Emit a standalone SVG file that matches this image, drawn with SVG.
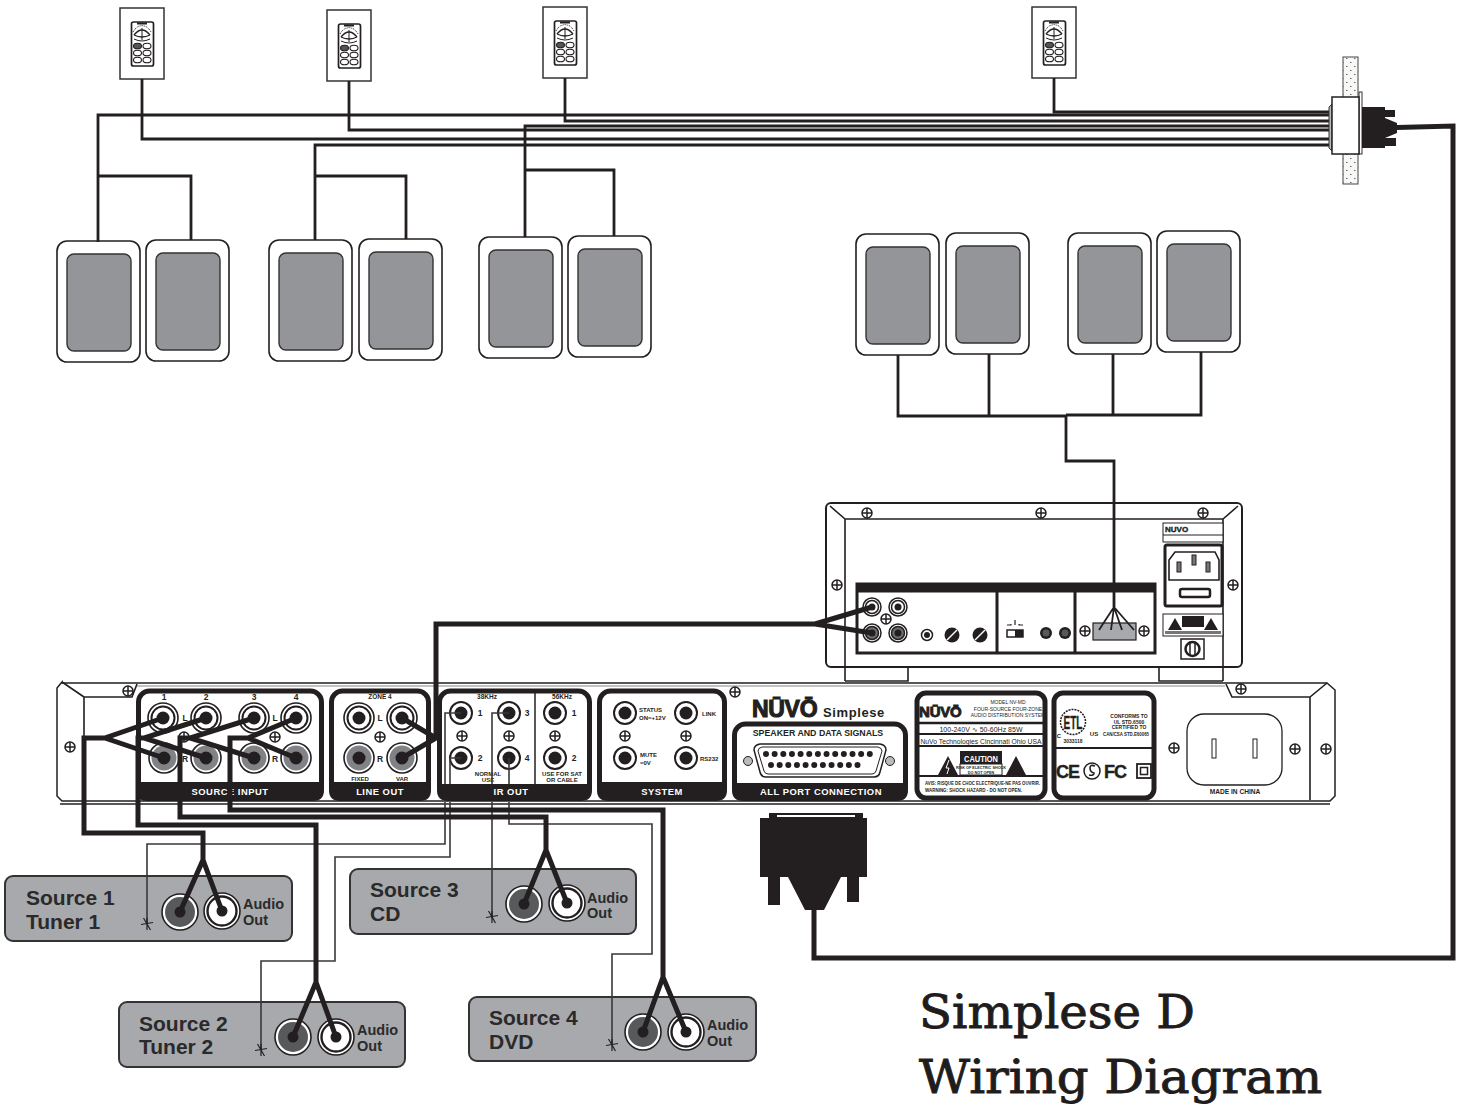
<svg xmlns="http://www.w3.org/2000/svg" xmlns:xlink="http://www.w3.org/1999/xlink" width="1463" height="1105" viewBox="0 0 1463 1105">
<style>
text{font-family:"Liberation Sans",Arial,sans-serif;font-weight:bold;fill:#231f20}
.m{text-anchor:middle}
.w{fill:#fff}
.lab{font-size:9.400px;letter-spacing:.5px;text-anchor:middle;fill:#fff}
.n{font-size:8.500px;text-anchor:middle}
.s{font-size:6px;text-anchor:middle}
.r{font-weight:normal;font-size:5px;text-anchor:middle}
.src{font-size:21px;fill:#2b2a2b}
.aud{font-size:14.500px;fill:#2b2a2b}
.title{font-family:"DejaVu Serif",serif;font-weight:normal;fill:#1f1c1d;stroke:#1f1c1d;stroke-width:.9px}
.panel{fill:#fff;stroke:#231f20;stroke-width:5}
.band{fill:#231f20}
.thin{fill:none;stroke:#231f20;stroke-width:1.200}
.ln{fill:none;stroke:#231f20;stroke-width:1.600}
.spk{fill:none;stroke:#231f20;stroke-width:2.800}
.ir{fill:none;stroke:#3a3839;stroke-width:1.600}
.aw{fill:none;stroke:#231f20;stroke-width:5;stroke-linejoin:miter}
.bk{fill:#231f20}
</style>
<defs>
<g id="screw"><circle r="5" fill="#fff" stroke="#231f20" stroke-width="1.500"/><path d="M-5 0H5M0-5V5" stroke="#231f20" stroke-width="1.500"/></g>
<g id="rw"><circle r="15" fill="#fff" stroke="#231f20" stroke-width="1.600"/><circle r="11.500" fill="#fff" stroke="#231f20" stroke-width="2"/><circle r="6.500" class="bk"/></g>
<g id="rg"><circle r="15" fill="#fff" stroke="#231f20" stroke-width="1.600"/><circle r="12.500" fill="#808285"/><circle r="6.500" class="bk"/></g>
<g id="jk"><circle r="11" fill="#fff" stroke="#231f20" stroke-width="2"/><circle r="6.500" class="bk"/></g>
<g id="arw"><circle r="9" fill="#fff" stroke="#231f20" stroke-width="1.500"/><circle r="6.500" fill="#fff" stroke="#231f20" stroke-width="1.500"/><circle r="3.500" class="bk"/></g>
<g id="arg"><circle r="9" fill="#fff" stroke="#231f20" stroke-width="1.500"/><circle r="6.500" fill="#6d6e71" stroke="#231f20" stroke-width="1.500"/><circle r="3.500" class="bk"/></g>
<g id="sd"><circle r="18" fill="#fff" stroke="#231f20" stroke-width="1.600"/><circle r="15" fill="#58595b"/><circle r="5.500" class="bk"/></g>
<g id="sw"><circle r="18" fill="#fff" stroke="#231f20" stroke-width="1.600"/><circle r="14.500" fill="#fff" stroke="#231f20" stroke-width="2.400"/><circle r="5.500" class="bk"/></g>
<g id="spkr"><rect width="83" height="121" rx="10" fill="#fff" stroke="#231f20" stroke-width="1.600"/><rect x="10" y="13" width="64" height="97" rx="7" fill="#939598" stroke="#333" stroke-width="1.400"/></g>
<g id="kp"><rect width="44" height="71" fill="#fff" stroke="#333" stroke-width="1.500"/><rect x="11.500" y="14" width="22" height="44" rx="2" fill="#fff" stroke="#231f20" stroke-width="1.700"/><path d="M17 15.500h10" stroke="#231f20" stroke-width="2"/><path d="M14 27q8-10 16 0M14 27q8 4 16 0" fill="none" stroke="#231f20" stroke-width="1.300"/><path d="M13 24l2-3 3-2.500 4-1 4 1 3 2.500 2 3" fill="none" stroke="#231f20" stroke-width="1" stroke-dasharray="1 1"/><path d="M22 20v12M14 31q8 4 16 0" fill="none" stroke="#231f20" stroke-width="1"/><g fill="#fff" stroke="#231f20" stroke-width="1.100"><ellipse cx="17.500" cy="38" rx="4" ry="2.800" fill="#555"/><ellipse cx="27" cy="38" rx="4" ry="2.800"/><ellipse cx="17.500" cy="45" rx="4" ry="2.800"/><ellipse cx="27" cy="45" rx="4" ry="2.800"/><ellipse cx="17.500" cy="52" rx="4" ry="2.800"/><ellipse cx="27" cy="52" rx="4" ry="2.800"/></g></g>
<path id="star" d="M-6 0.500L6-1.500M-3.500-6L3.500 6M0-6V6" class="thin" stroke-width="1"/>
<pattern id="dots" width="8" height="8" patternUnits="userSpaceOnUse"><rect width="8" height="8" fill="#f8f8f6"/><path d="M2 2.500h1.500M6 6.500h1.500" stroke="#666" stroke-width="1"/></pattern>
</defs>
<rect width="1463" height="1105" fill="#fff"/>

<g id="keypads">
<use id="keypad-1" href="#kp" x="120" y="8"/>
<use id="keypad-2" href="#kp" x="327" y="10"/>
<use id="keypad-3" href="#kp" x="543" y="7"/>
<use id="keypad-4" href="#kp" x="1032" y="7"/>
</g>
<g id="speakers">
<use href="#spkr" x="57" y="241"/><use href="#spkr" x="146" y="240"/>
<use href="#spkr" x="269" y="240"/><use href="#spkr" x="359" y="239"/>
<use href="#spkr" x="479" y="237"/><use href="#spkr" x="568" y="236"/>
<use href="#spkr" x="856" y="234"/><use href="#spkr" x="946" y="233"/>
<use href="#spkr" x="1068" y="233"/><use href="#spkr" x="1157" y="231"/>
</g>

<g id="wall-plate">
<rect x="1343" y="57" width="15" height="127" fill="url(#dots)" stroke="#444" stroke-width="1"/>
<rect x="1359" y="92" width="3" height="62" fill="#fff" stroke="#333" stroke-width="1"/>
<path class="bk" d="M1362 107H1385V110H1395V117H1385V118L1397 123V133L1385 138H1396V146H1385V148H1362Z"/>
</g>

<g id="amp-top">
<rect x="826" y="503" width="416" height="164" rx="5" fill="#fff" stroke="#231f20" stroke-width="2"/>
<path class="ln" d="M830 506L845 519H1223L1238 506M845 519V681M1223 519V681M845 681H908V667M1159 667V681H1223"/>
<use href="#screw" x="867" y="513"/><use href="#screw" x="1041" y="513"/><use href="#screw" x="1203" y="513"/><use href="#screw" x="837" y="585"/><use href="#screw" x="1233" y="585"/>
<rect x="857" y="584" width="298" height="69" fill="#fff" stroke="#231f20" stroke-width="3"/>
<rect x="856" y="583" width="300" height="9.500" class="bk"/>
<path d="M997 584V653M1075 584V653" stroke="#231f20" stroke-width="3"/>
<use href="#arw" x="872" y="607"/><use href="#arw" x="898" y="607"/><use href="#arg" x="872" y="633"/><use href="#arg" x="898" y="633"/>
<use href="#screw" x="886" y="619"/>
<circle cx="927" cy="635" r="5.500" fill="#fff" stroke="#231f20" stroke-width="1.500"/><circle cx="927" cy="635" r="3" class="bk"/>
<g stroke="#fff" stroke-width="1.500"><circle cx="952" cy="635" r="7.500" fill="#231f20" stroke="none"/><path d="M947 640L957 630"/><circle cx="980" cy="635" r="7.500" fill="#231f20" stroke="none"/><path d="M975 640L985 630"/></g>
<rect x="1007" y="630" width="16" height="7" fill="#fff" stroke="#231f20" stroke-width="1.500"/><rect x="1015" y="630" width="8" height="7" class="bk"/>
<path class="thin" d="M1007 625h4v-1M1015 620v5M1019 624v1h4"/>
<circle cx="1046" cy="633" r="6" class="bk"/><circle cx="1046" cy="633" r="3.500" fill="#58595b"/>
<circle cx="1065" cy="633" r="6" class="bk"/><circle cx="1065" cy="633" r="3.500" fill="#58595b"/>
<use href="#screw" x="1085" y="631"/><use href="#screw" x="1144" y="631"/>
<rect x="1093" y="623" width="43" height="17" fill="#a7a9ac" stroke="#231f20" stroke-width="1.200"/>
<rect x="1163" y="523" width="60" height="19" fill="#fff" stroke="#231f20"/>
<path d="M1163 535H1223" class="thin"/>
<text x="1165" y="532" style="font-size:8px" stroke="#231f20" stroke-width=".4">NUVO</text>
<rect x="1165" y="545" width="57" height="61" rx="2" fill="#fff" stroke="#231f20" stroke-width="3"/>
<path class="ln" d="M1175 552H1215L1219 560V580H1169V560Z"/>
<rect x="1177" y="562" width="4" height="10" fill="#777" stroke="#231f20"/><rect x="1192" y="555" width="4" height="10" fill="#777" stroke="#231f20"/><rect x="1206" y="562" width="4" height="10" fill="#777" stroke="#231f20"/>
<rect x="1180" y="589" width="30" height="8" rx="2" fill="#fff" stroke="#231f20" stroke-width="2.500"/>
<rect x="1163" y="614" width="60" height="22" fill="#fff" stroke="#231f20"/>
<path class="bk" d="M1168 630l7-12 7 12zM1204 630l7-12 7 12z"/><rect x="1182" y="616" width="22" height="11" class="bk"/><rect x="1165" y="631" width="56" height="3" fill="#777"/>
<rect x="1181" y="639" width="23" height="20" fill="#fff" stroke="#231f20" stroke-width="1.500"/><circle cx="1192.500" cy="649" r="7" fill="#fff" stroke="#231f20" stroke-width="2.500"/><path d="M1190 643v12M1195 643v12" stroke="#231f20" stroke-width="1.500"/>
</g>

<g id="rack">
<path d="M62 682L57 688V796L62 801H1330L1335 796V690L1327 683H62Z" fill="#fff" stroke="#231f20" stroke-width="1.500"/>
<path class="ln" d="M60 804H1330M84 697L62 682M84 697V800M84 697H132L137 684M1226 684L1232 697H1310L1327 683M1310 697V800"/>
<path d="M137 686H1225" stroke="#888" stroke-width="1"/>
<use href="#screw" x="128" y="691"/><use href="#screw" x="735" y="692"/><use href="#screw" x="1241" y="689"/><use href="#screw" x="70" y="747"/><use href="#screw" x="1174" y="748"/><use href="#screw" x="1295" y="749"/><use href="#screw" x="1326" y="749"/>

<g id="source-input">
<rect class="panel" x="138.500" y="691" width="183" height="107" rx="11"/><path class="band" d="M136 782H324V790Q324 801 313 801H147Q136 801 136 790Z"/>
<text class="n" x="164" y="700">1</text><text class="n" x="206" y="700">2</text><text class="n" x="254" y="700">3</text><text class="n" x="296" y="700">4</text>
<use href="#rw" x="163" y="718"/><use href="#rw" x="206" y="718"/><use href="#rw" x="254" y="718"/><use href="#rw" x="296" y="718"/>
<use href="#rg" x="164" y="758"/><use href="#rg" x="206" y="758"/><use href="#rg" x="254" y="758"/><use href="#rg" x="296" y="758"/>
<text class="n" x="185" y="721">L</text><text class="n" x="275" y="721">L</text><text class="n" x="185" y="762">R</text><text class="n" x="275" y="762">R</text>
<use href="#screw" x="184" y="737"/><use href="#screw" x="275" y="737"/>
<text class="lab" x="230" y="795">SOURCE INPUT</text>
</g>
<g id="line-out">
<rect class="panel" x="331.500" y="691" width="97" height="107" rx="11"/><path class="band" d="M329 782H431V790Q431 801 420 801H340Q329 801 329 790Z"/>
<text class="s" x="380" y="699" style="font-size:6.500px">ZONE 4</text>
<use href="#rw" x="359" y="718"/><use href="#rw" x="402" y="718"/><use href="#rg" x="359" y="758"/><use href="#rg" x="402" y="758"/>
<text class="n" x="380" y="721">L</text><text class="n" x="380" y="762">R</text><use href="#screw" x="380" y="737"/>
<text class="s" x="360" y="781">FIXED</text><text class="s" x="402" y="781">VAR</text>
<text class="lab" x="380" y="795">LINE OUT</text>
</g>
<g id="ir-out">
<rect class="panel" x="439.500" y="691" width="150" height="107" rx="11"/><path class="band" d="M437 784H592V790Q592 801 581 801H448Q437 801 437 790Z"/>
<path d="M535 691V784" stroke="#231f20" stroke-width="1.500"/>
<text class="s" x="487" y="699" style="font-size:6.500px">38KHz</text><text class="s" x="562" y="699" style="font-size:6.500px">56KHz</text>
<use href="#jk" x="461" y="713"/><use href="#jk" x="461" y="758"/><use href="#jk" x="509" y="713"/><use href="#jk" x="509" y="758"/><use href="#jk" x="555" y="713"/><use href="#jk" x="555" y="758"/>
<text class="n" x="480" y="716">1</text><text class="n" x="480" y="761">2</text><text class="n" x="527" y="716">3</text><text class="n" x="527" y="761">4</text><text class="n" x="574" y="716">1</text><text class="n" x="574" y="761">2</text>
<use href="#screw" x="462" y="736"/><use href="#screw" x="509" y="736"/><use href="#screw" x="555" y="736"/>
<text class="s" x="488" y="776">NORMAL</text><text class="s" x="488" y="782">USE</text><text class="s" x="562" y="776">USE FOR SAT</text><text class="s" x="562" y="782">OR CABLE</text>
<text class="lab" x="511" y="795">IR OUT</text>
</g>
<g id="system">
<rect class="panel" x="599.500" y="691" width="125" height="107" rx="11"/><path class="band" d="M597 782H727V790Q727 801 716 801H608Q597 801 597 790Z"/>
<use href="#jk" x="625" y="713"/><use href="#jk" x="686" y="713"/><use href="#jk" x="625" y="758"/><use href="#jk" x="686" y="758"/>
<text x="639" y="712" style="font-size:6px">STATUS</text><text x="639" y="720" style="font-size:6px">ON=+12V</text><text x="702" y="716" style="font-size:6px">LINK</text>
<text x="640" y="757" style="font-size:6px">MUTE</text><text x="640" y="765" style="font-size:6px">=0V</text><text x="700" y="761" style="font-size:6px">RS232</text>
<use href="#screw" x="625" y="736"/><use href="#screw" x="686" y="736"/>
<text class="lab" x="662" y="795">SYSTEM</text>
</g>
<g id="all-port">
<text x="752" y="717" style="font-size:23px;letter-spacing:-.3px" stroke="#231f20" stroke-width="1.100">NŪVŌ</text>
<text x="823" y="717" style="font-size:13px;letter-spacing:.6px">Simplese</text>
<rect class="panel" x="734.500" y="724" width="171" height="74" rx="11"/><path class="band" d="M732 783H908V790Q908 801 897 801H743Q732 801 732 790Z"/>
<text class="m" x="818" y="736" style="font-size:8.800px">SPEAKER AND DATA SIGNALS</text>
<path d="M760 744H880Q886 745 886 750L880 772Q879 777 874 777H766Q761 777 760 772L754 750Q754 745 760 744Z" fill="#fff" stroke="#231f20" stroke-width="1.500"/>
<path d="M762 747H878Q882 748 882 751L876 771Q875 774 872 774H768Q765 774 764 771L758 751Q758 748 762 747Z" fill="none" stroke="#231f20" stroke-width="1"/>
<path d="M766 754H871" stroke="#231f20" stroke-width="6" stroke-linecap="round" stroke-dasharray="0 8.650" fill="none"/>
<path d="M771 765H866" stroke="#231f20" stroke-width="6" stroke-linecap="round" stroke-dasharray="0 8.650" fill="none"/>
<circle cx="748" cy="761" r="4.500" fill="#bbb" stroke="#231f20"/><circle cx="890" cy="761" r="4.500" fill="#bbb" stroke="#231f20"/>
<text class="lab" x="821" y="795">ALL PORT CONNECTION</text>
</g>
<g id="rating-label">
<rect class="panel" x="917" y="693" width="128" height="105" rx="9"/>
<text x="919" y="717" style="font-size:15px;letter-spacing:-.2px" stroke="#231f20" stroke-width=".9">NŪVŌ</text>
<text class="r" x="1008" y="704">MODEL NV-MD</text><text class="r" x="1008" y="711">FOUR-SOURCE FOUR-ZONE</text><text class="r" x="1008" y="717">AUDIO DISTRIBUTION SYSTEM</text>
<path d="M917 723H1045" stroke="#231f20" stroke-width="2.500"/><path d="M917 734H1045M917 746H1045" stroke="#231f20" stroke-width="1.800"/>
<text class="m" x="981" y="732" style="font-weight:normal;font-size:7px">100-240V ∿ 50-60Hz 85W</text>
<text class="m" x="981" y="744" style="font-weight:normal;font-size:7px" textLength="121" lengthAdjust="spacingAndGlyphs">NuVo Technologies Cincinnati Ohio USA</text>
<path class="bk" d="M938 775l10-19 10 19zM1006 775l10-19 10 19z"/><path d="M949 760l-3 8h3l-2 6" stroke="#fff" fill="none"/>
<rect x="960" y="751" width="42" height="13" class="bk"/><rect x="960" y="764" width="42" height="11" fill="#fff" stroke="#231f20"/>
<text class="m w" x="981" y="762" style="font-size:9.500px" textLength="34" lengthAdjust="spacingAndGlyphs">CAUTION</text><text class="m" x="981" y="769" style="font-size:3.800px">RISK OF ELECTRIC SHOCK</text><text class="m" x="981" y="773.500" style="font-size:3.800px">DO NOT OPEN</text>
<path d="M917 776H1045" stroke="#231f20" stroke-width="2"/>
<text x="925" y="785" style="font-size:5.500px" textLength="115" lengthAdjust="spacingAndGlyphs">AVIS:  RISQUE DE CHOC ELECTRIQUE-NE PAS OUVRIR.</text>
<text x="925" y="792" style="font-size:5.500px" textLength="97" lengthAdjust="spacingAndGlyphs">WARNING:  SHOCK HAZARD - DO NOT OPEN.</text>
</g>
<g id="cert-label">
<rect class="panel" x="1054" y="693" width="100" height="105" rx="9"/>
<path d="M1054 748H1154" stroke="#231f20" stroke-width="2"/>
<circle cx="1073" cy="722" r="12.500" fill="#fff" stroke="#231f20" stroke-width="1.500" stroke-dasharray="2 1"/>
<text class="m" x="1073" y="729" style="font-size:18px" stroke="#231f20" stroke-width=".3" textLength="19" lengthAdjust="spacingAndGlyphs">ETL</text>
<text class="s" x="1059" y="738">C</text><text class="s" x="1094" y="736">US</text><text class="s" x="1073" y="743" style="font-size:5px">3033118</text>
<text class="s" x="1129" y="718" style="font-size:5px">CONFORMS TO</text><text class="s" x="1129" y="723.500" style="font-size:5px">UL STD.6500</text><text class="s" x="1129" y="729" style="font-size:5px">CERTIFIED TO</text><text class="s" x="1126" y="736" style="font-size:4.600px" textLength="46" lengthAdjust="spacingAndGlyphs">CAN/CSA STD.E60065</text>
<text x="1056" y="778" style="font-size:18px;letter-spacing:-1px" stroke="#231f20" stroke-width=".4">CE</text>
<circle cx="1092" cy="771" r="8" fill="none" stroke="#231f20" stroke-width="1.500"/><path d="M1095 766q-5-2-5 2t4 5q0 3-5 2" class="ln"/>
<text x="1104" y="778" style="font-size:18px;letter-spacing:-1px" stroke="#231f20" stroke-width=".4">FC</text>
<rect x="1137" y="764" width="14" height="14" fill="none" stroke="#231f20" stroke-width="1.800"/><rect x="1140.500" y="767.500" width="7" height="7" fill="none" stroke="#231f20" stroke-width="1.500"/>
</g>
<g id="inlet">
<rect x="1187" y="714" width="95" height="71" rx="17" fill="#fff" stroke="#231f20" stroke-width="1.300"/>
<rect x="1212" y="739" width="4" height="19" fill="#fff" stroke="#231f20"/><rect x="1253" y="739" width="4" height="19" fill="#fff" stroke="#231f20"/>
<text class="s" x="1235" y="794" style="font-size:6.600px">MADE IN CHINA</text>
</g>
</g>

<g id="source-1">
<rect x="5" y="876" width="287" height="65" rx="8" fill="#a7a9ac" stroke="#333" stroke-width="2"/>
<text class="src" x="26" y="905">Source 1</text><text class="src" x="26" y="929">Tuner 1</text>
<use href="#sd" x="180" y="912"/><use href="#sw" x="222" y="911"/>
<text class="aud" x="243" y="909">Audio</text><text class="aud" x="243" y="925">Out</text>
</g>
<g id="source-2">
<rect x="119" y="1002" width="286" height="65" rx="8" fill="#a7a9ac" stroke="#333" stroke-width="2"/>
<text class="src" x="139" y="1031">Source 2</text><text class="src" x="139" y="1054">Tuner 2</text>
<use href="#sd" x="293" y="1037"/><use href="#sw" x="336" y="1037"/>
<text class="aud" x="357" y="1035">Audio</text><text class="aud" x="357" y="1051">Out</text>
</g>
<g id="source-3">
<rect x="350" y="869" width="286" height="65" rx="8" fill="#a7a9ac" stroke="#333" stroke-width="2"/>
<text class="src" x="370" y="897">Source 3</text><text class="src" x="370" y="921">CD</text>
<use href="#sd" x="524" y="904"/><use href="#sw" x="567" y="903"/>
<text class="aud" x="587" y="903">Audio</text><text class="aud" x="587" y="918">Out</text>
</g>
<g id="source-4">
<rect x="469" y="997" width="287" height="64" rx="8" fill="#a7a9ac" stroke="#333" stroke-width="2"/>
<text class="src" x="489" y="1025">Source 4</text><text class="src" x="489" y="1049">DVD</text>
<use href="#sd" x="643" y="1032"/><use href="#sw" x="686" y="1032"/>
<text class="aud" x="707" y="1030">Audio</text><text class="aud" x="707" y="1046">Out</text>
</g>

<g id="d-connector">
<path class="bk" d="M769 813H863V818H867V877H859V902H847V877H841L824 910H805L788 877H780V905H768V877H760V818H769Z"/>
<rect x="777" y="815" width="78" height="2" fill="#fff"/>
</g>

<g id="connectors">
<path class="spk" d="M142 79V139H1332M349 81V130H1332M565 78V121H1332M1054 78V112H1332"/>
<path class="spk" d="M98 242V115H1332M98 176H191V240M315 240V145H1332M315 176H406V239M525 237V126H1332M525 170H614V236"/>
<path class="spk" d="M898 355V416H1066V461H1114V607M989 354V416M1066 415H1201V352M1113 354V415"/>
<path d="M1114 607L1099 630M1114 607L1111 630M1114 607L1122 630M1114 607L1134 630" fill="none" stroke="#231f20" stroke-width="1.800"/>
<path class="aw" d="M1397 127.500L1453 126V958H814V908"/>
<path class="ir" d="M461 713H445V784M445 802V844H147V924M461 758H450V784M450 802V857H335V961H261V1050M509 713H492V784M492 802V918M509 758V784M509 802V824H652V954H612V1045"/>
<use href="#star" x="147" y="924"/><use href="#star" x="261" y="1050"/><use href="#star" x="492" y="917"/><use href="#star" x="612" y="1045"/>
<g class="aw">
<path d="M163 718L105 738L164 758M105 738H84V833H203V860M180 912L203 860L222 911"/>
<path d="M206 718L144 738L206 758M144 738H138V825H316V982M293 1037L316 982L336 1037"/>
<path d="M254 718L190 738L254 758M190 738H180V817H546V850M524 904L546 850L567 903"/>
<path d="M296 718L248 738L296 758M248 738H230V810H663V977M643 1032L663 977L686 1032"/>
<path d="M815 624H436V738M402 718L436 738L402 758M872 607L815 624L872 633"/>
</g>
</g>

<g id="wall-box">
<path d="M1329 107l3-3v47l-3-3z" fill="#bbb" stroke="#333"/>
<rect x="1332" y="97" width="27" height="57" fill="#fff" stroke="#231f20" stroke-width="1.500"/>
</g>

<g id="title">
<text class="title" x="919" y="1028" style="font-size:46px" textLength="276" lengthAdjust="spacingAndGlyphs">Simplese D</text>
<text class="title" x="919" y="1093" style="font-size:46px" textLength="403" lengthAdjust="spacingAndGlyphs">Wiring Diagram</text>
</g>
</svg>
